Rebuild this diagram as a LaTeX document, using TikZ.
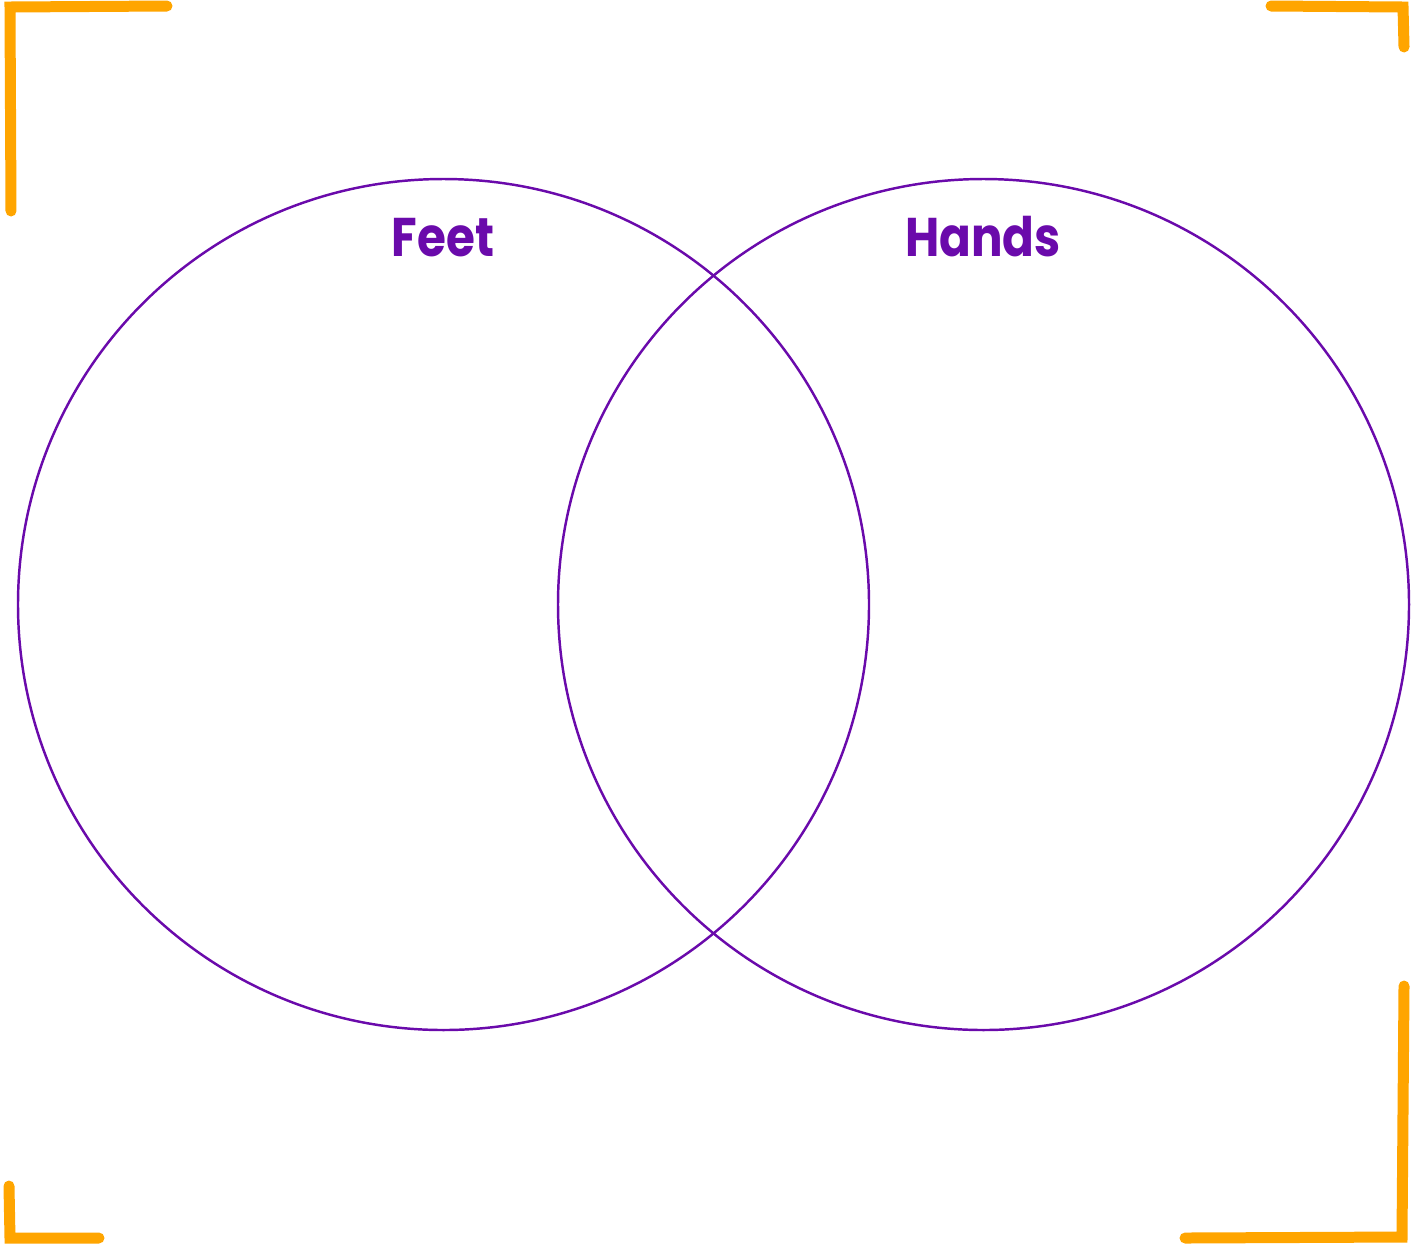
\documentclass[tikz,border=0pt]{standalone}
\usepackage{fontspec}
\newfontfamily\vennfont[FakeStretch=0.86]{Poppins}
\usepackage{xcolor}
\definecolor{vennpurple}{HTML}{6A0AAB}
\definecolor{frameorange}{HTML}{FFA500}
\usetikzlibrary{positioning}

\begin{document}
\begin{tikzpicture}[x=0.02cm, y=-0.02cm,
    setline/.style={draw=vennpurple, line width=1.4pt},
    settitle/.style={font=\vennfont\bfseries\fontsize{31}{36}\selectfont, text=vennpurple, anchor=base},
    corner/.style={draw=frameorange, line width=0.22cm, line cap=round}]
    \useasboundingbox (0,0) rectangle (1415,1252);
    % the two sets
    \coordinate (feetc) at (443.5,604.5);
    \coordinate (handsc) at (983.5,604.5);
    \draw[setline] (feetc) circle (425.5);
    \draw[setline] (handsc) circle (425.5);
    \node[settitle] (feet) at (443,256) {Feet};
    \node[settitle] (hands) at (983,256) {Hands};
    % orange frame corners
    \draw[corner] (11,211) -- (10,7) -- (167,6);
    \draw[corner] (1271,6) -- (1403,7) -- (1404,47);
    \draw[corner] (9,1186) -- (10,1238) -- (99,1238);
    \draw[corner] (1404,986) -- (1402,1237) -- (1185,1238);
\end{tikzpicture}
\end{document}
